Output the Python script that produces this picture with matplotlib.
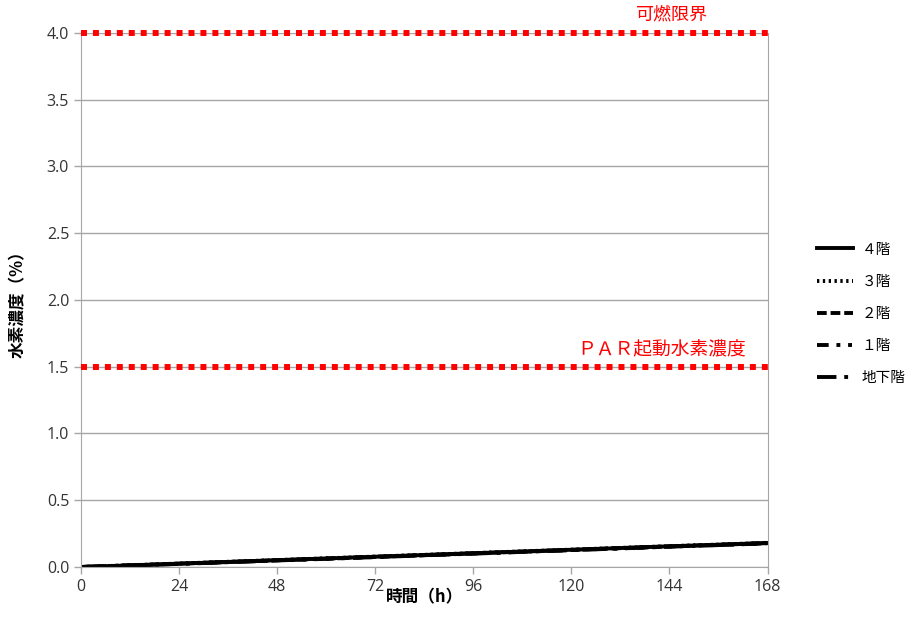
import matplotlib
matplotlib.use("Agg")
import matplotlib.pyplot as plt

plt.rcParams['font.family'] = ['Noto Sans CJK JP', 'DejaVu Sans']

# 時間 (h)
hours = [0, 12, 24, 36, 48, 60, 72, 84, 96, 108, 120, 132, 144, 156, 168]

# 水素濃度 (%) per floor
floor4 = [0.0, 0.012, 0.025, 0.038, 0.051, 0.064, 0.077, 0.090, 0.103, 0.116, 0.129, 0.142, 0.155, 0.167, 0.180]
floor3 = [0.0, 0.013, 0.026, 0.039, 0.052, 0.065, 0.078, 0.091, 0.104, 0.117, 0.130, 0.143, 0.156, 0.168, 0.181]
floor2 = [0.0, 0.012, 0.025, 0.037, 0.050, 0.063, 0.076, 0.089, 0.102, 0.115, 0.128, 0.141, 0.154, 0.166, 0.179]
floor1 = [0.0, 0.011, 0.024, 0.037, 0.050, 0.062, 0.075, 0.088, 0.101, 0.114, 0.127, 0.140, 0.153, 0.165, 0.178]
basement = [0.0, 0.011, 0.023, 0.036, 0.049, 0.061, 0.074, 0.087, 0.100, 0.113, 0.126, 0.139, 0.152, 0.164, 0.177]

labels = ['４階', '３階', '２階', '１階', '地下階']
styles = ['-', (0, (0.6, 0.9)), (0, (2.5, 1)), (0, (3, 2, 1, 2, 1, 2)), (0, (5, 2, 1, 2))]

flammable = 4.0
par_start = 1.5

fig = plt.figure(figsize=(9.13, 6.2), dpi=100)
ax = fig.add_axes([0.0887, 0.0855, 0.752, 0.8615])

for ys, lab, ls in zip([floor4, floor3, floor2, floor1, basement], labels, styles):
    ax.plot(hours, ys, color='black', lw=2.8, ls=ls, label=lab)

for lvl in (flammable, par_start):
    ax.plot([0, 168], [lvl, lvl], color='#ff0000', lw=4.3, ls=(0, (1, 1)),
            dash_capstyle='butt', zorder=5, clip_on=False)

ax.text(144.5, flammable + 0.07, '可燃限界', color='#ff0000', fontsize=13,
        ha='center', va='bottom')
ax.text(142, par_start + 0.05, 'ＰＡＲ起動水素濃度', color='#ff0000', fontsize=13.5,
        ha='center', va='bottom')

ax.set_xlim(0, 168)
ax.set_ylim(0, 4.0)
ax.set_xticks(range(0, 169, 24))
ax.set_yticks([i * 0.5 for i in range(9)])
ax.set_yticklabels([f'{i * 0.5:.1f}' for i in range(9)])
ax.grid(axis='y', color='#a6a6a6', lw=1)
ax.set_axisbelow(True)
ax.spines['top'].set_visible(False)
for s in ('left', 'bottom', 'right'):
    ax.spines[s].set_color('#a6a6a6')
ax.tick_params(axis='both', colors='#a6a6a6', labelcolor='#333333', labelsize=11.5,
               length=5, width=1)
for t in ax.get_xticklabels() + ax.get_yticklabels():
    t.set_family(['Open Sans', 'DejaVu Sans'])

ax.set_xlabel('時間（h）', fontsize=12, fontweight='bold', labelpad=-5)
ax.set_ylabel('水素濃度（%）', fontsize=12, fontweight='bold', labelpad=14)

h, l = ax.get_legend_handles_labels()
fig.legend(h, l, loc='upper left', bbox_to_anchor=(0.88, 0.63), frameon=False,
           fontsize=10.5, handlelength=2.5, labelspacing=1.25, handletextpad=0.6)

fig.savefig('out.png', dpi=100)
